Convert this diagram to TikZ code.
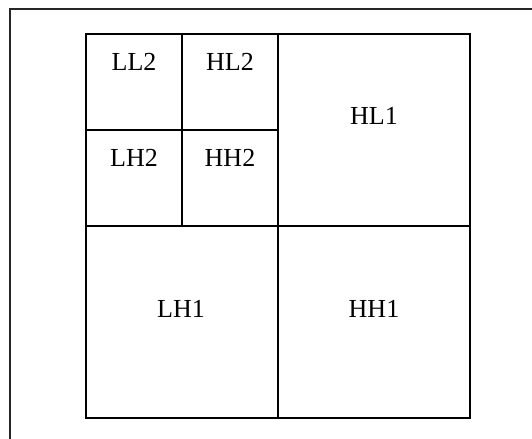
\documentclass[tikz,border=0pt]{standalone}
\usepackage{fontspec}
\setmainfont{Liberation Serif}
\usetikzlibrary{positioning}

\begin{document}
\begin{tikzpicture}[x=0.5pt, y=-0.5pt,
				band/.style={draw=black, line width=1.1pt},
				sub/.style={inner sep=0pt, anchor=center},
				font=\fontsize{13}{15}\selectfont]
				% Bildbereich
				\useasboundingbox (0,0) rectangle (532,439);
				\clip (0,0) rectangle (532,439);
				% Rahmen
				\draw[line width=1pt, draw=black!85] (10,460) |- (560,9);
				% Zerlegung
				\coordinate (nw) at (86,34);
				\coordinate (se) at (470,418);
				\draw[band] (nw) rectangle (se);
				\draw[band] (278,34) -- (278,418);
				\draw[band] (86,226) -- (470,226);
				\draw[band] (182,34) -- (182,226);
				\draw[band] (86,130) -- (278,130);
				% Teilbaender beschriften
				\node[sub] (ll2) at (134,61.5) {LL2};
				\node[sub] (hl2) at (230,61.5) {HL2};
				\node[sub] (lh2) at (134,157.5) {LH2};
				\node[sub] (hh2) at (230,157.5) {HH2};
				\node[sub] (hl1) at (374,116) {HL1};
				\node[sub] (lh1) at (181,308.5) {LH1};
				\node[sub] (hh1) at (374,308.5) {HH1};
			\end{tikzpicture}
\end{document}
